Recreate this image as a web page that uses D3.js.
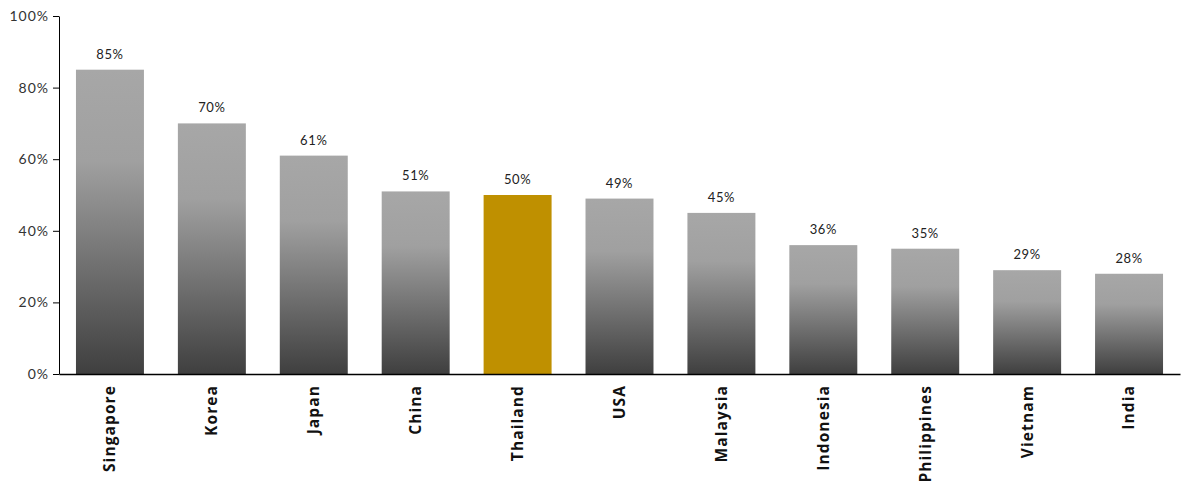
<!DOCTYPE html>
<html><head><meta charset="utf-8">
<script src="https://cdn.jsdelivr.net/npm/d3@7"></script>
<style>body{margin:0;background:#fff}</style>
</head><body>
<svg id="c" width="1195" height="490"></svg>
<script>
const categories = ["Singapore","Korea","Japan","China","Thailand","USA","Malaysia","Indonesia","Philippines","Vietnam","India"];
const values = [85,70,61,51,50,49,45,36,35,29,28];
const highlight = ["Thailand"];
const yTicks = [0,20,40,60,80,100];

const svg = d3.select("#c");
const m = {l:59, r:15, t:16, b:116};
const W = 1195, H = 490;
const x = d3.scaleBand().domain(categories).range([m.l, W - m.r]).paddingInner(0.333).paddingOuter(0.1665);
const y = d3.scaleLinear().domain([0,100]).range([H - m.b, m.t]);

const defs = svg.append("defs");
const g = defs.append("linearGradient").attr("id","grad").attr("x1",0).attr("y1",0).attr("x2",0).attr("y2",1);
g.append("stop").attr("offset","0%").attr("stop-color","#a7a7a7");
g.append("stop").attr("offset","30%").attr("stop-color","#a0a0a0");
g.append("stop").attr("offset","100%").attr("stop-color","#3f3f3f");

svg.selectAll("rect.bar").data(categories).enter().append("rect")
  .attr("x", d => x(d)).attr("width", x.bandwidth())
  .attr("y", (d,i) => y(values[i])).attr("height", (d,i) => y(0) - y(values[i]))
  .attr("fill", d => highlight.includes(d) ? "#bf9000" : "url(#grad)");

svg.selectAll("text.val").data(categories).enter().append("text")
  .attr("x", d => x(d) + x.bandwidth()/2).attr("y", (d,i) => y(values[i]) - 11)
  .attr("text-anchor","middle").attr("font-family","Lato, sans-serif").attr("font-size",13)
  .attr("letter-spacing",0.6).attr("fill","#222").text((d,i) => values[i] + "%");

const ya = svg.append("g").attr("transform",`translate(${m.l},0)`)
  .call(d3.axisLeft(y).tickValues(yTicks).tickFormat(d => d + "%").tickSize(6).tickSizeOuter(0));
ya.select(".domain").attr("stroke","#000");
ya.selectAll(".tick line").attr("stroke","#000");
ya.selectAll(".tick text").attr("font-family","Lato, sans-serif").attr("font-size",14)
  .attr("letter-spacing",1).attr("fill","#333").attr("dx",-1);

const xa = svg.append("g").attr("transform",`translate(0,${y(0)})`)
  .call(d3.axisBottom(x).tickSize(0).tickSizeOuter(0));
xa.select(".domain").attr("stroke","#000").attr("stroke-width",1.3);
xa.selectAll(".tick text").attr("font-family","'Open Sans', sans-serif").attr("font-weight",700).attr("font-size",15.5)
  .attr("letter-spacing",1.1)
  .attr("fill","#111").attr("text-anchor","end").attr("transform","rotate(-90)")
  .attr("x",-11).attr("y",0).attr("dy","0.35em");
</script>
</body></html>
